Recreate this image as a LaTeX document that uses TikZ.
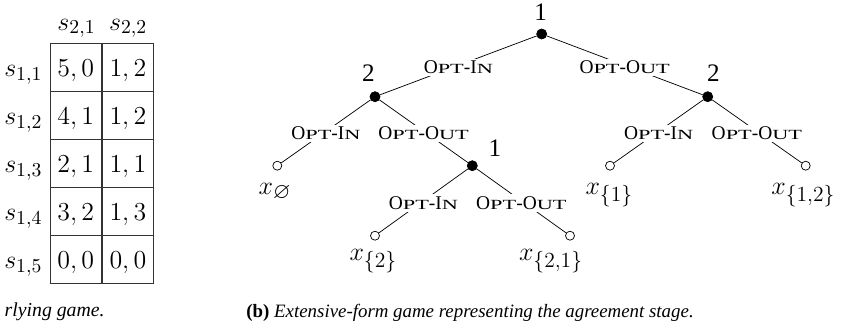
\documentclass[tikz,border=0pt]{standalone}
\usepackage{amssymb}
\usepackage{graphicx}
\usepackage{fontspec}
\setmainfont{Liberation Serif}
\DeclareMathSizes{15}{15}{12.4}{10}
\newcommand{\scs}[1]{\scalebox{1.15}[0.72]{#1}}
\newcommand{\optin}{O\scs{PT}-I\scs{N}}
\newcommand{\optout}{O\scs{PT}-O\scs{UT}}
\tikzset{
  px/.style={x=0.556pt,y=-0.556pt},
  decision/.style={circle,fill=black,draw=black,inner sep=0pt,minimum size=5.6pt},
  leaf/.style={circle,draw=black,fill=white,inner sep=0pt,minimum size=5pt},
  edgelab/.style={fill=white,inner sep=1.2pt,yshift=-1.1pt,font=\fontsize{10.8}{13}\selectfont},
  player/.style={anchor=base,font=\fontsize{14}{16}\selectfont},
  outcome/.style={anchor=base,font=\fontsize{15}{18}\selectfont},
  cell/.style={draw=black!80,line width=0.6pt,minimum width=28.7pt,minimum height=26.7pt,inner sep=0pt},
  celltext/.style={anchor=base,font=\fontsize{15.5}{18}\selectfont},
  caption/.style={anchor=base west,font=\fontsize{10.5}{12}\selectfont}
}
\begin{document}
\begin{tikzpicture}[px]
\useasboundingbox (0,0) rectangle (844,331);
% ---- table ----
\foreach \r/\y in {1/67.3,2/115.3,3/163.3,4/211.3,5/259.3}{
  \node[cell] (c\r1) at (76.2,\y) {};
  \node[cell] (c\r2) at (127.9,\y) {};
}
\node[celltext] (h1) at (76.5,30) {$s_{2,1}$};
\node[celltext] (h2) at (128.2,30) {$s_{2,2}$};
\node[celltext] (r1) at (23.3,76.7) {$s_{1,1}$};
\node[celltext] (r2) at (23.3,124.7) {$s_{1,2}$};
\node[celltext] (r3) at (23.3,172.7) {$s_{1,3}$};
\node[celltext] (r4) at (23.3,220.7) {$s_{1,4}$};
\node[celltext] (r5) at (23.3,268.7) {$s_{1,5}$};
\node[celltext] (v11) at (75.8,76.7) {$5,0$};
\node[celltext] (v12) at (127.9,76.7) {$1,2$};
\node[celltext] (v21) at (75.8,124.7) {$4,1$};
\node[celltext] (v22) at (127.9,124.7) {$1,2$};
\node[celltext] (v31) at (75.8,172.7) {$2,1$};
\node[celltext] (v32) at (127.9,172.7) {$1,1$};
\node[celltext] (v41) at (75.8,220.7) {$3,2$};
\node[celltext] (v42) at (127.9,220.7) {$1,3$};
\node[celltext] (v51) at (75.8,268.7) {$0,0$};
\node[celltext] (v52) at (127.9,268.7) {$0,0$};
\node[caption,anchor=base east,font=\fontsize{11}{13}\selectfont] (capa) at (111,316) {\itshape rlying game.};
% ---- tree ----
\node[decision] (root) at (541.7,34) {};
\node[decision] (p2l) at (375,96.7) {};
\node[decision] (p1m) at (472.3,165.7) {};
\node[decision] (p2r) at (707.7,96.7) {};
\node[leaf] (lempty) at (277.3,165.7) {};
\node[leaf] (l2) at (375,235.7) {};
\node[leaf] (l21) at (570,235.7) {};
\node[leaf] (l1) at (610,165.7) {};
\node[leaf] (l12) at (805.7,165.7) {};
\node[player] (nroot) at (540.7,20) {1};
\node[player] (np2l) at (368.3,81.7) {2};
\node[player] (np1m) at (495,156.7) {1};
\node[player] (np2r) at (713.3,81.7) {2};
\node[outcome] (xempty) at (275,194.3) {$x_{\varnothing}$};
\node[outcome] (x2) at (373.3,260) {$x_{\{2\}}$};
\node[outcome] (x21) at (551,260) {$x_{\{2,1\}}$};
\node[outcome] (x1) at (609.3,194.3) {$x_{\{1\}}$};
\node[outcome] (x12) at (803.3,194.3) {$x_{\{1,2\}}$};
\draw (root) -- node[edgelab] {\optin} (p2l);
\draw (root) -- node[edgelab] {\optout} (p2r);
\draw (p2l) -- node[edgelab] {\optin} (lempty);
\draw (p2l) -- node[edgelab] {\optout} (p1m);
\draw (p1m) -- node[edgelab] {\optin} (l2);
\draw (p1m) -- node[edgelab] {\optout} (l21);
\draw (p2r) -- node[edgelab] {\optin} (l1);
\draw (p2r) -- node[edgelab] {\optout} (l12);
\node[caption] (capb) at (240,317) {\textbf{(b)} \itshape Extensive-form game representing the agreement stage.};
\end{tikzpicture}
\end{document}
